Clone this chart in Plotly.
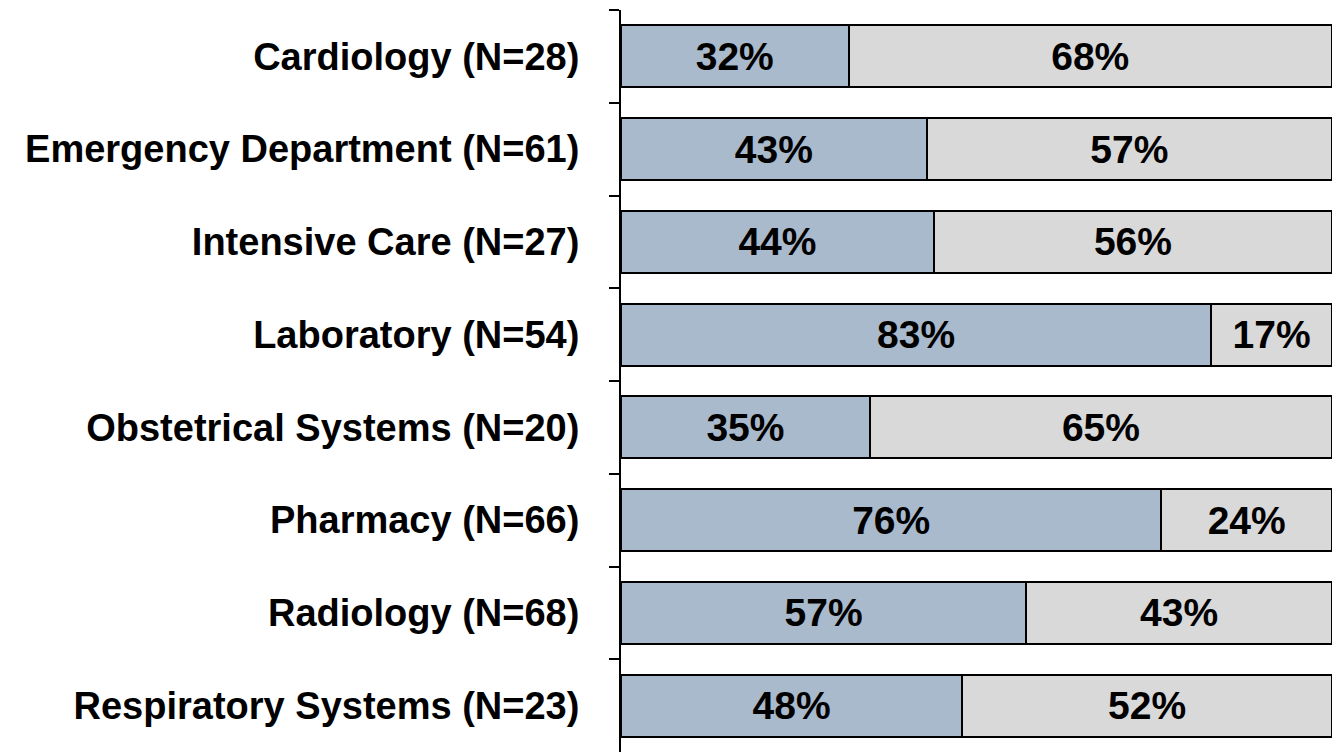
import plotly.graph_objects as go

categories = ["Cardiology (N=28)", "Emergency Department (N=61)", "Intensive Care (N=27)",
              "Laboratory (N=54)", "Obstetrical Systems (N=20)", "Pharmacy (N=66)",
              "Radiology (N=68)", "Respiratory Systems (N=23)"]
yes_vals = [32, 43, 44, 83, 35, 76, 57, 48]
no_vals = [68, 57, 56, 17, 65, 24, 43, 52]

font_family = "Liberation Sans, Arial, sans-serif"

fig = go.Figure()
fig.add_trace(go.Bar(
    y=categories, x=yes_vals, orientation="h",
    marker=dict(color="#A9BACC", line=dict(color="#000000", width=2)),
    text=[f"{v}%" for v in yes_vals], textposition="inside", insidetextanchor="middle",
    textfont=dict(family=font_family, size=39, color="#000000", weight="bold"),
    showlegend=False, hoverinfo="skip"))
fig.add_trace(go.Bar(
    y=categories, x=no_vals, orientation="h",
    marker=dict(color="#D9D9D9", line=dict(color="#000000", width=2)),
    text=[f"{v}%" for v in no_vals], textposition="inside", insidetextanchor="middle",
    textfont=dict(family=font_family, size=39, color="#000000", weight="bold"),
    showlegend=False, hoverinfo="skip"))

fig.update_layout(
    barmode="stack", bargap=0.33,
    width=1333, height=752,
    margin=dict(l=621, r=1, t=10, b=0),
    paper_bgcolor="white", plot_bgcolor="white",
    xaxis=dict(range=[0, 100], visible=False, showgrid=False),
    yaxis=dict(autorange="reversed", type="category", showline=True, linecolor="#000000",
               linewidth=2, ticks="outside", ticklen=10, tickwidth=2, tickcolor="#000000",
               tickson="boundaries", showgrid=False, automargin=False,
               tickfont=dict(family=font_family, size=38, color="#000000", weight="bold"),
               ticklabelstandoff=32),
)
fig.write_html("out.html", config={"displayModeBar": False},
               post_script="document.body.style.margin='0';document.body.style.overflow='hidden';")
